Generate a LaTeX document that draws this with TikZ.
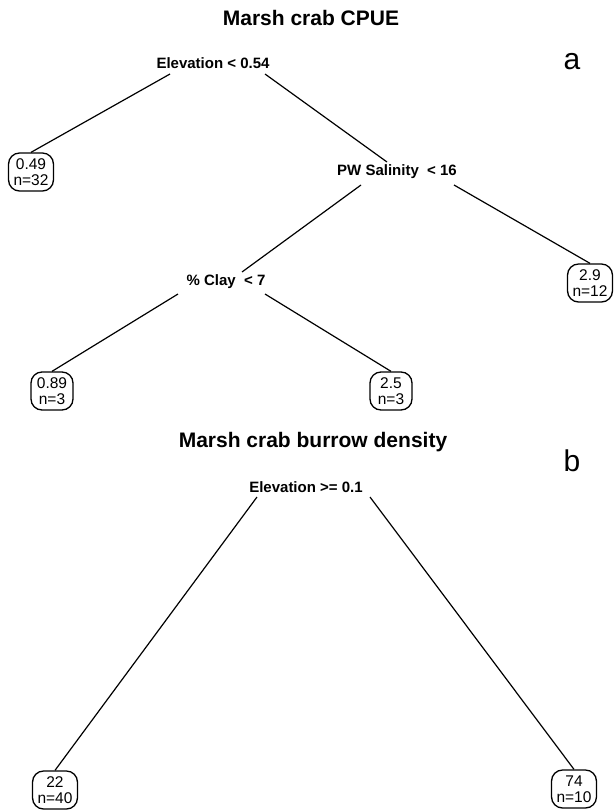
\documentclass[tikz,border=0pt]{standalone}
\usepackage{fontspec}
\setmainfont{Liberation Sans}
\usetikzlibrary{calc}
\begin{document}
\begin{tikzpicture}[x=1pt,y=-1pt,
  split/.style={font=\fontsize{15}{18}\selectfont\bfseries, inner sep=0pt},
  leaf/.style={draw, line width=1.3pt, rounded corners=11pt, align=center,
    font=\fontsize{15.5}{16.5}\selectfont, minimum width=42pt, minimum height=38pt,
    inner xsep=5pt, inner ysep=2pt},
  ttl/.style={font=\fontsize{21}{24}\selectfont\bfseries, inner sep=0pt},
  pnl/.style={font=\fontsize{30}{32}\selectfont, inner sep=0pt},
  edge/.style={line width=1.2pt}]
\useasboundingbox (0,0) rectangle (614,811);

% panel a
\node[ttl] (ta) at (311,18) {Marsh crab CPUE};
\node[pnl] (pa) at (572,62) {a};
\node[split] (n1) at (213,63) {Elevation < 0.54};
\node[leaf] (l1) at (31,172) {0.49\\n=32};
\node[split] (n2) at (397,172) {PW Salinity\ \ < 16};
\node[leaf] (l2) at (590,283) {2.9\\n=12};
\node[split] (n3) at (226,282) {\% Clay\ \ < 7};
\node[leaf] (l3) at (52,391) {0.89\\n=3};
\node[leaf] (l4) at (391,391) {2.5\\n=3};

\draw[edge] ($(n1)+(-43,11)$) -- (l1.north);
\draw[edge] ($(n1)+(52,11)$) -- ($(n2)+(-10,-10)$);
\draw[edge] ($(n2)+(-36,13)$) -- ($(n3)+(16,-10)$);
\draw[edge] ($(n2)+(57,13)$) -- (l2.north);
\draw[edge] ($(n3)+(-48,12)$) -- (l3.north);
\draw[edge] ($(n3)+(39,12)$) -- (l4.north);

% panel b
\node[ttl] (tb) at (313,442) {Marsh crab burrow density};
\node[pnl] (pb) at (572,461) {b};
\node[split] (n4) at (306,487) {Elevation >= 0.1};
\node[leaf] (l5) at (55,790) {22\\n=40};
\node[leaf] (l6) at (574,789) {74\\n=10};

\draw[edge] ($(n4)+(-49,10)$) -- (l5.north);
\draw[edge] ($(n4)+(64,10)$) -- (l6.north);
\end{tikzpicture}
\end{document}
